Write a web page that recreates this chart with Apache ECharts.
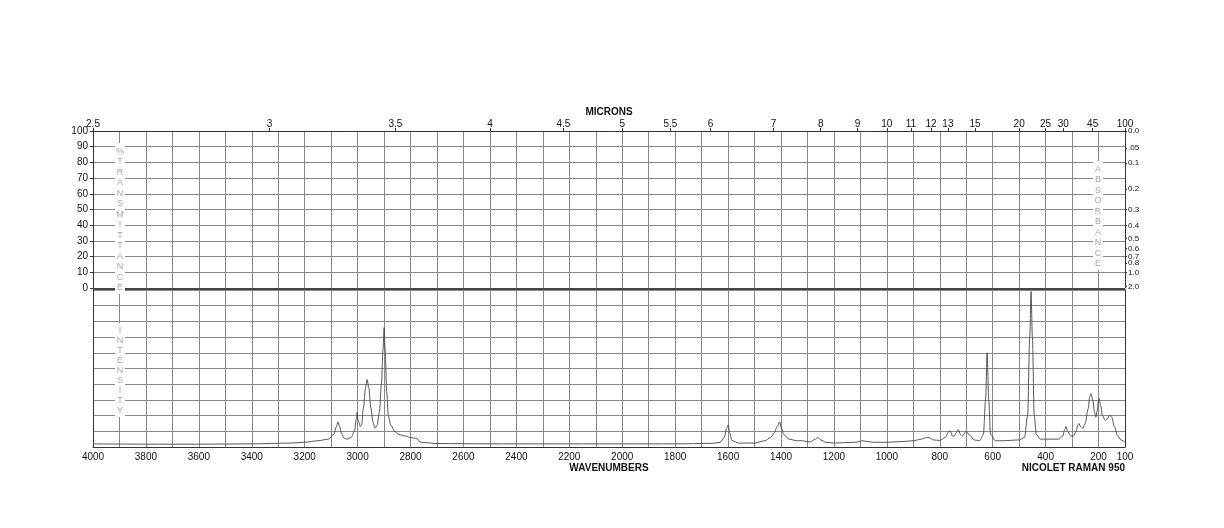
<!DOCTYPE html><html><head><meta charset="utf-8">
<script src="https://cdn.jsdelivr.net/npm/echarts@6/dist/echarts.min.js"></script>
<style>html,body{margin:0;background:#fff}#c{width:1224px;height:528px}</style></head><body><div id="c"></div>
<script>
const micronTicks=[2.5,3,3.5,4,4.5,5,5.5,6,7,8,9,10,11,12,13,15,20,25,30,45,100];
const absTicks=['0.0','.05','0.1','0.2','0.3','0.4','0.5','0.6','0.7','0.8','1.0','2.0'];
const transTicks=[0,10,20,30,40,50,60,70,80,90,100];
const wnTicks=[4000,3800,3600,3400,3200,3000,2800,2600,2400,2200,2000,1800,1600,1400,1200,1000,800,600,400,200,100];
// Raman spectrum [wavenumber, intensity]
const spectrum=[[4000,2],[3800,1.8],[3600,1.8],[3400,2],[3250,2.5],[3200,3],[3150,4],[3110,5],[3090,8],[3080,13],[3074,16],[3068,13],[3060,8],[3050,5.5],[3040,5],[3025,6],[3012,10],[3005,18],[3002,22],[2998,17],[2990,13],[2985,14],[2978,25],[2970,38],[2964,43],[2958,38],[2950,25],[2942,16],[2934,12],[2926,14],[2918,22],[2910,40],[2904,62],[2900,76],[2896,62],[2890,35],[2884,20],[2875,14],[2860,10],[2845,8],[2820,7],[2800,6],[2780,5.5],[2760,3],[2700,2.2],[2500,2],[2300,2],[2000,2],[1800,2],[1660,2.3],[1630,3],[1615,6],[1605,12],[1600,14],[1594,9],[1585,4],[1560,2.5],[1500,2.5],[1460,4],[1440,6],[1425,9],[1415,13],[1405,16],[1398,12],[1390,8],[1370,5],[1340,4],[1320,4],[1290,3.2],[1270,5],[1260,6],[1250,4.5],[1230,3],[1200,2.5],[1120,3],[1090,4],[1075,3.5],[1050,3],[1000,3],[940,3.5],[900,4],[870,5],[850,6],[840,6],[825,4.5],[800,4.2],[780,6],[765,10],[760,10],[752,7],[745,7],[737,9],[730,11],[722,8],[714,7],[706,9],[700,10],[690,8],[670,4.5],[650,4],[635,8],[627,30],[621,60],[615,30],[608,8],[590,4],[560,4],[500,4.5],[480,6],[468,20],[460,70],[455,99],[450,70],[443,20],[435,8],[420,5],[380,5],[350,5],[335,7],[328,11],[323,13],[317,10],[305,7],[295,7],[285,10],[278,14],[274,15],[268,13],[260,12],[250,15],[240,24],[233,32],[228,34],[222,30],[215,22],[210,19],[205,23],[200,30],[198,31],[192,26],[185,20],[175,17],[165,18],[160,20],[156,20],[150,19],[140,13],[128,7],[115,4.5],[100,3]];

const grey='#888';
const font='Liberation Sans';
const microns=micronTicks.map(m=>10000/m);
const absVals=absTicks.map(a=>100*Math.pow(10,-parseFloat(a)));
const vtext=(s,x,y,lh)=>[
 {type:'rect',left:x-5,top:y-3,z:10,shape:{width:10,height:s.length*lh+4},style:{fill:'#fff'}},
 {type:'text',x:x,y:y,z:11,style:{text:s.split('').join('\n'),font:'9px '+font,fill:'#aaa',align:'center',verticalAlign:'top',lineHeight:lh}}];
const opt={
 animation:false,
 textStyle:{fontFamily:font},
 grid:[{left:93,width:1032,top:131,height:157},{left:93,width:1032,top:290,height:157}],
 xAxis:[
  {gridIndex:0,type:'value',min:100,max:4000,inverse:true,interval:100,position:'bottom',axisLabel:{show:false},axisTick:{show:false},axisLine:{show:false,onZero:false},splitLine:{lineStyle:{color:grey,width:1}}},
  {gridIndex:0,type:'value',min:100,max:4000,inverse:true,position:'top',splitLine:{show:false},
   axisLine:{onZero:false,lineStyle:{color:'#333'}},
   axisTick:{length:3,inside:false,customValues:microns,lineStyle:{color:'#333'}},
   axisLabel:{customValues:microns,margin:2,fontSize:10,color:'#111',formatter:v=>{const m=10000/v;const i=micronTicks.findIndex(t=>Math.abs(t-m)<1e-6);return i>=0?String(micronTicks[i]):'';}},
   name:'MICRONS',nameLocation:'middle',nameGap:14,nameTextStyle:{fontWeight:'bold',fontSize:10,color:'#111'}},
  {gridIndex:1,type:'value',min:100,max:4000,inverse:true,interval:100,position:'bottom',
   axisLine:{onZero:false,lineStyle:{color:'#333'}},axisTick:{show:false},
   splitLine:{lineStyle:{color:grey,width:1}},
   axisLabel:{customValues:wnTicks,fontSize:10,color:'#111',margin:5,formatter:v=>String(v)},
   name:'WAVENUMBERS',nameLocation:'middle',nameGap:16,nameTextStyle:{fontWeight:'bold',fontSize:10,color:'#111'}}
 ],
 yAxis:[
  {gridIndex:0,type:'value',min:0,max:100,interval:10,axisLine:{show:true,onZero:false,lineStyle:{color:'#333'}},axisTick:{show:true,length:3},
   axisLabel:{fontSize:10,color:'#111',margin:5},splitLine:{lineStyle:{color:grey}}},
  {gridIndex:0,type:'value',min:0,max:100,position:'right',splitLine:{show:false},axisLine:{show:true,onZero:false,lineStyle:{color:'#333'}},
   axisTick:{customValues:absVals,length:2,inside:false},
   axisLabel:{customValues:absVals,fontSize:8,color:'#111',margin:3,formatter:v=>{const i=absVals.findIndex(a=>Math.abs(a-v)<1e-6);return i>=0?absTicks[i]:'';}}},
  {gridIndex:1,type:'value',min:0,max:100,interval:10,axisLine:{show:true,onZero:false,lineStyle:{color:'#333'}},axisTick:{show:false},axisLabel:{show:false},splitLine:{lineStyle:{color:grey}}},
  {gridIndex:1,type:'value',min:0,max:100,position:'right',axisLine:{show:true,onZero:false,lineStyle:{color:'#333'}},axisTick:{show:false},axisLabel:{show:false},splitLine:{show:false}}
 ],
 series:[{type:'line',xAxisIndex:2,yAxisIndex:2,data:spectrum,showSymbol:false,smooth:0.3,smoothMonotone:'x',lineStyle:{color:'#444',width:0.9}}],
 graphic:[
  {type:'rect',left:93,top:288,z:5,shape:{width:1032,height:2},style:{fill:'#444'}},
  ...vtext('%TRANSMITTANCE',120,146,10.5),
  ...vtext('INTENSITY',120,326,10),
  ...vtext('ABSORBANCE',1098,164,10.5),
  {type:'text',right:99,top:463,style:{text:'NICOLET RAMAN 950',font:'bold 10px '+font,fill:'#111'}}
 ]
};
echarts.init(document.getElementById('c')).setOption(opt);
</script></body></html>
